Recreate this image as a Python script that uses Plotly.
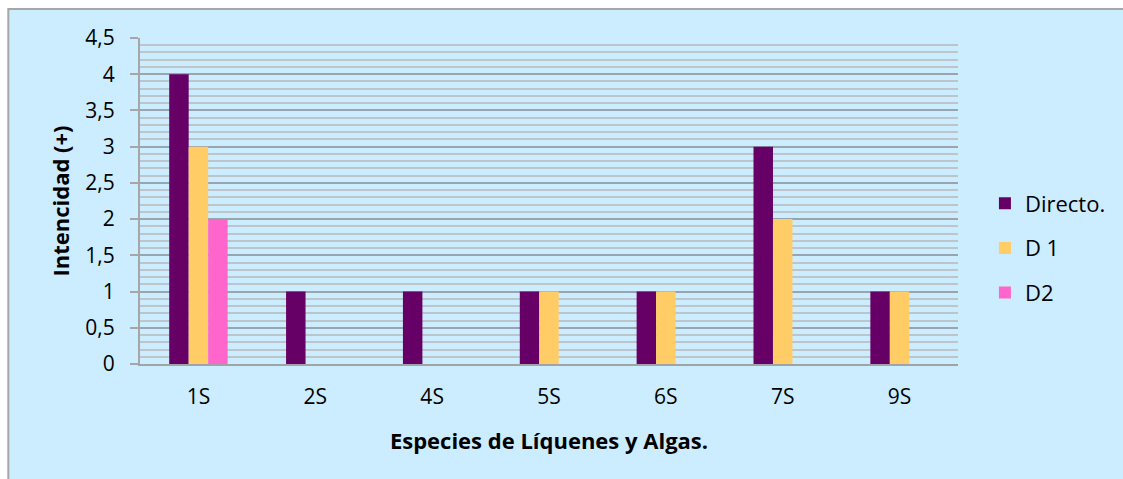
import plotly.graph_objects as go

categories = ["1S", "2S", "4S", "5S", "6S", "7S", "9S"]
directo = [4, 1, 1, 1, 1, 3, 1]
d1 = [3, 0, 0, 1, 1, 2, 1]
d2 = [2, 0, 0, 0, 0, 0, 0]

series = [("Directo.", directo, "#660066"), ("D 1", d1, "#FFCC66"), ("D2", d2, "#FF66CC")]

FONT = "Open Sans"
fig = go.Figure()
for i, (name, vals, col) in enumerate(series):
    fig.add_trace(go.Bar(x=categories, y=vals, name=name, marker=dict(color=col, line=dict(width=0)),
                         legendgroup=f"g{i}"))

# page pixel coordinates (body margin removed in post_script)
L, R, T, B = 140, 163, 38, 115
W, H = 1123, 479
pw, ph = W - L - R, H - T - B

def px_x(p):
    return (p - L) / pw

def px_y(p):
    return (H - B - p) / ph

# chart area: light blue with grey left/top border
fig.add_shape(type="rect", xref="paper", yref="paper", layer="below",
              x0=px_x(8), x1=px_x(W + 30), y0=px_y(H + 30), y1=px_y(9),
              fillcolor="#CCECFF", line=dict(color="#A6A6A6", width=2))

fig.update_layout(
    width=W, height=H,
    margin=dict(l=L, r=R, t=T, b=B, pad=0),
    paper_bgcolor="white", plot_bgcolor="rgba(0,0,0,0)",
    separators=", ",
    barmode="group", bargap=0.5, bargroupgap=0,
    font=dict(family=FONT, color="black"),
    legend=dict(x=px_x(987), xanchor="left", y=px_y(248), yanchor="middle",
                font=dict(size=22, family=FONT), tracegroupgap=13,
                bgcolor="rgba(0,0,0,0)"),
    showlegend=True,
)
fig.update_xaxes(
    showline=True, linecolor="#A0A4A8", linewidth=2,
    showgrid=False, ticks="", tickfont=dict(size=21, family=FONT),
    ticklabelstandoff=13,
    title=dict(text="<b>Especies de Líquenes y Algas.</b>", font=dict(size=22, family=FONT), standoff=24),
)
fig.update_yaxes(
    range=[0, 4.5], dtick=0.5, tick0=0,
    showline=True, linecolor="#A6A6A6", linewidth=2,
    ticks="outside", ticklen=8, tickcolor="#A6A6A6", tickwidth=2,
    tickfont=dict(size=21, family=FONT), ticklabelstandoff=11,
    showgrid=True, gridcolor="#98A4AE", gridwidth=2,
    minor=dict(dtick=0.1, showgrid=True, gridcolor="#BCC4CC", gridwidth=1.5),
    zeroline=False,
    title=dict(text="<b>Intencidad (+)</b>", font=dict(size=22, family=FONT), standoff=10),
)

fig.write_html("out.html", config={"displayModeBar": False},
               post_script="document.body.style.margin='0';document.documentElement.style.overflow='hidden';")
